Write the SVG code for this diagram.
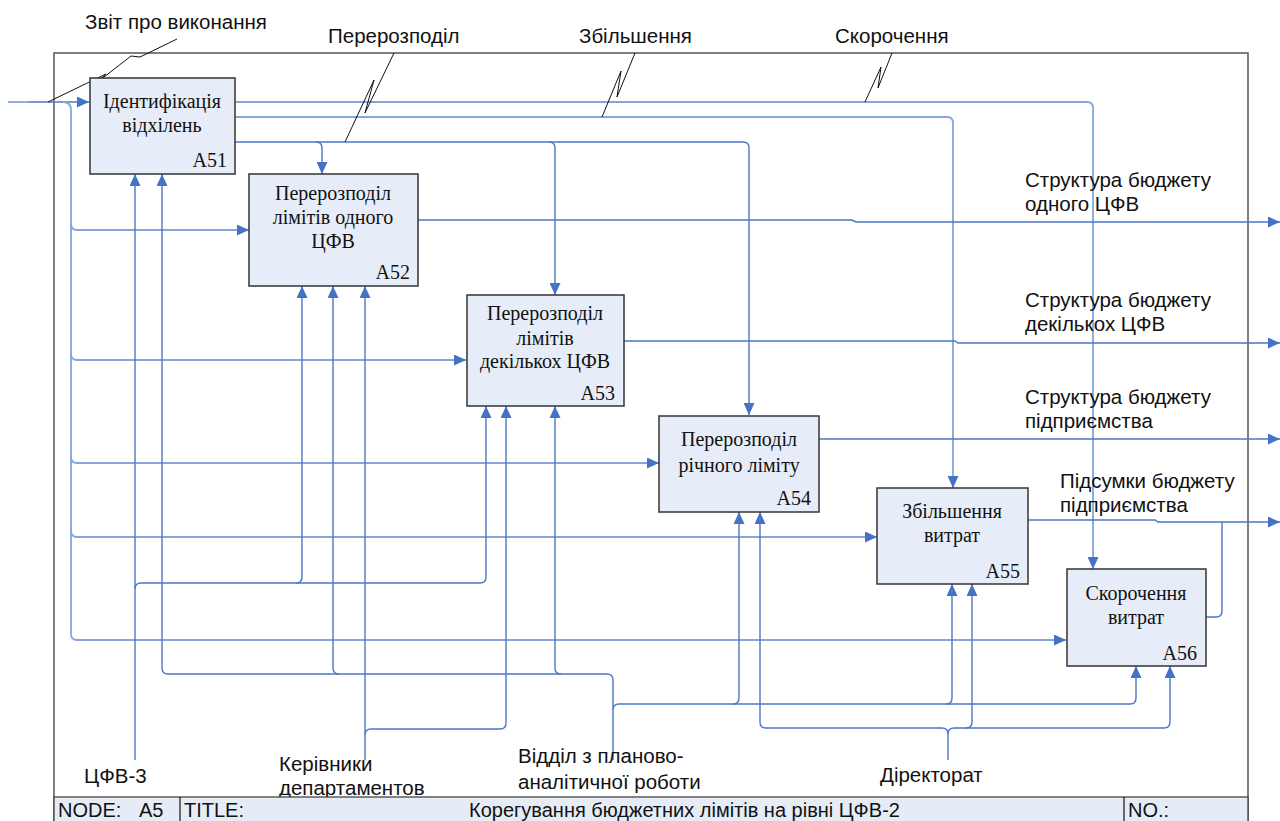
<svg xmlns="http://www.w3.org/2000/svg" width="1280" height="821" viewBox="0 0 1280 821">
<style>
.box{fill:#E7EDF8;stroke:#333;stroke-width:1.5}
.bt{font-family:"Liberation Serif","Times New Roman",serif;font-size:20px;fill:#111;text-anchor:middle}
.bn{font-family:"Liberation Serif","Times New Roman",serif;font-size:20px;fill:#111;text-anchor:end}
.lb{font-family:"Liberation Sans",Arial,sans-serif;font-size:20.5px;fill:#111}
.fl{font-family:"Liberation Sans",Arial,sans-serif;font-size:20px;fill:#111}
.c{fill:none;stroke:#4A78C6;stroke-width:1.4}
.l{fill:none;stroke:#86A5DA;stroke-width:1.8}
.sq{fill:none;stroke:#111;stroke-width:1}
.frame{fill:none;stroke:#555;stroke-width:1.5}
.ft{fill:#E6ECF6;stroke:#444;stroke-width:1.3}
</style>
<defs>
<marker id="ah" markerUnits="userSpaceOnUse" markerWidth="12" markerHeight="11" refX="12" refY="5.5" orient="auto">
<path d="M0,0 L12,5.5 L0,11 z" fill="#4472C4"/>
</marker>
</defs>
<rect x="0" y="0" width="1280" height="821" fill="#fff"/>
<rect class="frame" x="54" y="53" width="1194" height="780"/>

<g id="connectors">
<!-- left input -->
<path class="l" d="M8,102 H28"/>
<path class="c" d="M28,102 H89" marker-end="url(#ah)"/>
<path class="l" d="M63,102 Q71,102 71,110 V634 Q71,640 77,640 H1066" marker-end="url(#ah)"/>
<path class="l" d="M71,224 Q71,230 77,230 H249" marker-end="url(#ah)"/>
<path class="l" d="M71,354 Q71,360 77,360 H466" marker-end="url(#ah)"/>
<path class="l" d="M71,457 Q71,463 77,463 H659" marker-end="url(#ah)"/>
<path class="l" d="M71,531 Q71,537 77,537 H877" marker-end="url(#ah)"/>
<!-- A51 outputs -->
<path class="l" d="M235,102 H1087 Q1093,102 1093,108 V569" marker-end="url(#ah)"/>
<path class="l" d="M235,117 H947 Q953,117 953,123 V488" marker-end="url(#ah)"/>
<path class="c" d="M235,142 H743 Q749,142 749,148 V415" marker-end="url(#ah)"/>
<path class="c" d="M316,142 Q322,142 322,148 V174" marker-end="url(#ah)"/>
<path class="c" d="M549,142 Q555,142 555,148 V295" marker-end="url(#ah)"/>
<!-- outputs right -->
<path class="c" d="M418,220 H852 L856,222 H1280" marker-end="url(#ah)"/>
<path class="c" d="M624,341 H955 L958,343 H1280" marker-end="url(#ah)"/>
<path class="c" d="M819,439 H1280" marker-end="url(#ah)"/>
<path class="c" d="M1028,520 H1155 L1158,522 H1280" marker-end="url(#ah)"/>
<path class="c" d="M1206,617 H1216 Q1222,617 1222,611 V522"/>
<!-- ЦФВ-3 -->
<path class="c" d="M135,760 V174" marker-end="url(#ah)"/>
<path class="c" d="M135,589 Q135,583 141,583 H480 Q486,583 486,577 V406" marker-end="url(#ah)"/>
<path class="c" d="M296,583 Q302,583 302,577 V286" marker-end="url(#ah)"/>
<!-- Відділ -->
<path class="c" d="M613,760 V680 Q613,674 607,674 H168 Q162,674 162,668 V174" marker-end="url(#ah)"/>
<path class="c" d="M339,674 Q333,674 333,668 V286" marker-end="url(#ah)"/>
<path class="c" d="M561,674 Q555,674 555,668 V406" marker-end="url(#ah)"/>
<path class="c" d="M613,710 Q613,704 619,704 H733 Q739,704 739,698 V512" marker-end="url(#ah)"/>
<path class="c" d="M733,704 H946 Q952,704 952,698 V584" marker-end="url(#ah)"/>
<path class="c" d="M946,704 H1130 Q1136,704 1136,698 V666" marker-end="url(#ah)"/>
<!-- Керівники -->
<path class="c" d="M365,760 V286" marker-end="url(#ah)"/>
<path class="c" d="M365,735 Q365,729 371,729 H500 Q506,729 506,723 V406" marker-end="url(#ah)"/>
<!-- Діректорат -->
<path class="c" d="M948,760 V734 Q948,728 942,728 H766 Q760,728 760,722 V512" marker-end="url(#ah)"/>
<path class="c" d="M948,734 Q948,728 954,728 H1164 Q1170,728 1170,722 V666" marker-end="url(#ah)"/>
<path class="c" d="M966,728 Q972,728 972,722 V584" marker-end="url(#ah)"/>
<!-- squiggles -->
<path class="sq" d="M177,39 L140,57 L131,56 L95,84 L106,74 L48,102"/>
<path class="sq" d="M394,53 L365,113 L374,80 L345,142"/>
<path class="sq" d="M635,53 L617,97 L621,71 L602,117"/>
<path class="sq" d="M892,53 L878,88 L881,67 L865,102"/>
</g>

<g id="A51">
<rect class="box" x="90" y="78" width="145" height="96"/>
<text class="bt" x="162" y="108">Ідентифікація</text>
<text class="bt" x="162" y="132">відхілень</text>
<text class="bn" x="227" y="167">A51</text>
</g>
<g id="A52">
<rect class="box" x="249" y="174" width="169" height="112"/>
<text class="bt" x="333" y="200">Перерозподіл</text>
<text class="bt" x="333" y="224">лімітів одного</text>
<text class="bt" x="333" y="248">ЦФВ</text>
<text class="bn" x="410" y="279">A52</text>
</g>
<g id="A53">
<rect class="box" x="467" y="295" width="157" height="111"/>
<text class="bt" x="545" y="320">Перерозподіл</text>
<text class="bt" x="545" y="345">лімітів</text>
<text class="bt" x="545" y="368">декількох ЦФВ</text>
<text class="bn" x="615" y="400">A53</text>
</g>
<g id="A54">
<rect class="box" x="659" y="416" width="160" height="96"/>
<text class="bt" x="739" y="446">Перерозподіл</text>
<text class="bt" x="739" y="472">річного ліміту</text>
<text class="bn" x="811" y="505">A54</text>
</g>
<g id="A55">
<rect class="box" x="877" y="488" width="151" height="96"/>
<text class="bt" x="952" y="518">Збільшення</text>
<text class="bt" x="952" y="542">витрат</text>
<text class="bn" x="1020" y="578">A55</text>
</g>
<g id="A56">
<rect class="box" x="1067" y="569" width="139" height="97"/>
<text class="bt" x="1136" y="600">Скорочення</text>
<text class="bt" x="1136" y="624">витрат</text>
<text class="bn" x="1197" y="660">A56</text>
</g>

<g id="labels">
<text class="lb" x="85" y="29">Звіт про виконання</text>
<text class="lb" x="328" y="43">Перерозподіл</text>
<text class="lb" x="579" y="43">Збільшення</text>
<text class="lb" x="835" y="43">Скорочення</text>
<text class="lb" x="1025" y="187">Структура бюджету</text>
<text class="lb" x="1025" y="211">одного ЦФВ</text>
<text class="lb" x="1025" y="307">Структура бюджету</text>
<text class="lb" x="1025" y="331">декількох ЦФВ</text>
<text class="lb" x="1025" y="404">Структура бюджету</text>
<text class="lb" x="1025" y="428">підприємства</text>
<text class="lb" x="1060" y="488">Підсумки бюджету</text>
<text class="lb" x="1060" y="512">підприємства</text>
<text class="lb" x="84" y="783">ЦФВ-3</text>
<text class="lb" x="279" y="771">Керівники</text>
<text class="lb" x="279" y="795">департаментов</text>
<text class="lb" x="518" y="763">Відділ з планово-</text>
<text class="lb" x="518" y="789">аналітичної роботи</text>
<text class="lb" x="880" y="782">Діректорат</text>
</g>

<g id="footer">
<rect class="ft" x="54" y="797" width="1194" height="30"/>
<line x1="180" y1="797" x2="180" y2="821" stroke="#222" stroke-width="1.3"/>
<line x1="1124" y1="797" x2="1124" y2="821" stroke="#222" stroke-width="1.3"/>
<text class="fl" x="58" y="817">NODE:</text>
<text class="fl" x="139" y="817">A5</text>
<text class="fl" x="184" y="817">TITLE:</text>
<text class="fl" x="469" y="817" font-size="19.5">Корегування бюджетних лімітів на рівні ЦФВ-2</text>
<text class="fl" x="1128" y="817">NO.:</text>
</g>
</svg>
